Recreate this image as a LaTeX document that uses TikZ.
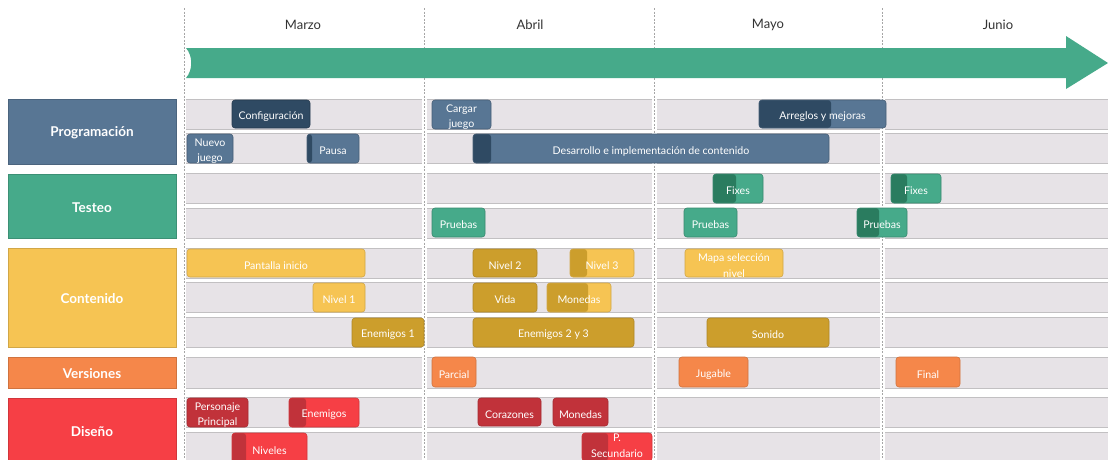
\documentclass[tikz,border=0pt]{standalone}
\usepackage{fontspec}
\setmainfont{Lato}
\definecolor{progL}{HTML}{587694}
\definecolor{progD}{HTML}{2F4A63}
\definecolor{testL}{HTML}{46AA8A}
\definecolor{testD}{HTML}{2A7C5F}
\definecolor{contL}{HTML}{F6C453}
\definecolor{contD}{HTML}{CC9E2C}
\definecolor{versC}{HTML}{F5874A}
\definecolor{disL}{HTML}{F63F45}
\definecolor{disD}{HTML}{C1323A}
\definecolor{rowfill}{HTML}{E7E3E7}
\definecolor{rowline}{HTML}{C2C0C2}
\definecolor{monthtext}{HTML}{333333}
\newcommand\task[8][-2.5pt]{%
  \pgfmathsetmacro\tw{#4-#3}%
  \pgfmathsetmacro\th{#6-#5}%
  \pgfmathsetmacro\tcx{(#3+#4)/2}%
  \pgfmathsetmacro\tcy{(#5+#6)/2}%
  \node[task,#7,minimum width=\tw pt,minimum height=\th pt,label={[tasktext,yshift=#1]center:{#8}}] (#2) at (\tcx,\tcy) {};}
\newcommand\catbox[5]{%
  \pgfmathsetmacro\th{#3-#2}%
  \pgfmathsetmacro\tcy{(#2+#3)/2}%
  \node[catstyle,fill=#4,draw=#4!85!black,minimum height=\th pt,label={[cattext]center:{#5}}] (#1) at (92,\tcy) {};}
\newcommand\rowband[2]{%
  \foreach \a/\b in {186/422,427/652,657/880,885/1108}{%
    \fill[rowfill] (\a,#1) rectangle (\b,#2);
    \draw[rowline,line width=0.7pt] (\a,#1) -- (\b,#1) (\a,#2) -- (\b,#2);}}
\tikzset{
  task/.style={rounded corners=3pt,inner sep=0pt,line width=0.6pt},
  tasktext/.style={text=white,font=\fontsize{10.6}{15.5}\selectfont,align=center,inner sep=0pt},
  pL/.style={fill=progL,draw=progL!80!black},
  pD/.style={fill=progD,draw=progD!80!black},
  tL/.style={fill=testL,draw=testL!80!black},
  cL/.style={fill=contL,draw=contL!85!black},
  cD/.style={fill=contD,draw=contD!85!black},
  vO/.style={fill=versC,draw=versC!85!black},
  dL/.style={fill=disL,draw=disL!85!black},
  dD/.style={fill=disD,draw=disD!85!black},
  split/.style 2 args={path picture={\fill[#1] (path picture bounding box.south west) rectangle ([xshift=#2]path picture bounding box.north west);}},
  catstyle/.style={minimum width=168pt,inner sep=0pt,line width=0.5pt},
  cattext/.style={text=white,font=\fontsize{13.5}{16}\selectfont\bfseries,inner sep=0pt,yshift=-1.5pt},
  month/.style={text=monthtext,font=\fontsize{13}{15}\selectfont,inner sep=2pt},
  monthline/.style={gray!70,line width=0.6pt,dash pattern=on 2pt off 1.5pt},
}
\begin{document}
\begin{tikzpicture}[x=1pt,y=-1pt]
\useasboundingbox (0,0) rectangle (1108,459);
\clip (0,0) rectangle (1108,459);
\fill[white] (0,0) rectangle (1108,459);
% month separators
\foreach \x in {184,424,654,882}{\draw[monthline] (\x,8) -- (\x,459);}
% month labels
\node[month] (marzo) at (303,25) {Marzo};
\node[month] (abril) at (530,25) {Abril};
\node[month] (mayo) at (768,25) {Mayo};
\node[month] (junio) at (998,25) {Junio};
% timeline arrow
\fill[testL] (186,48) -- (1066,48) -- (1066,36) -- (1108,63) -- (1066,89) -- (1066,78) -- (186,78)
  .. controls (193,70) and (193,56) .. (186,48) -- cycle;
% rows
\rowband{99}{129}\rowband{133}{163}
\rowband{173}{203}\rowband{208}{238}
\rowband{248}{278}\rowband{282}{312}\rowband{317}{347}
\rowband{357}{388}
\rowband{397}{427}\rowband{432}{470}
% categories
\catbox{cprog}{99}{164}{progL}{Programación}
\catbox{ctest}{174}{238}{testL}{Testeo}
\catbox{ccont}{248}{347}{contL}{Contenido}
\catbox{cvers}{357}{388}{versC}{Versiones}
\catbox{cdis}{398}{462}{disL}{Diseño}
% Programación
\task{conf}{232}{310}{100}{128}{pD}{Configuración}
\task{nuevo}{187}{233}{134}{163}{pL}{Nuevo\\juego}
\task{pausa}{307}{359}{134}{163}{pL,split={progD}{5pt}}{Pausa}
\task{cargar}{432}{491}{100}{129}{pL}{Cargar\\juego}
\task{desa}{473}{829}{134}{163}{pL,split={progD}{18pt}}{Desarrollo e implementación de contenido}
\task{arre}{759}{886}{100}{128}{pL,split={progD}{72pt}}{Arreglos y mejoras}
% Testeo
\task{fixesA}{713}{763}{174}{203}{tL,split={testD}{23pt}}{Fixes}
\task{fixesB}{891}{941}{174}{203}{tL,split={testD}{16pt}}{Fixes}
\task{pruA}{432}{485}{208}{237}{tL}{Pruebas}
\task{pruB}{684}{737}{208}{237}{tL}{Pruebas}
\task{pruC}{857}{907}{208}{237}{tL,split={testD}{22pt}}{Pruebas}
% Contenido
\task{pant}{187}{365}{249}{277}{cL}{Pantalla inicio}
\task{nivA}{313}{365}{283}{312}{cL}{Nivel 1}
\task{eneA}{352}{424}{318}{347}{cD}{Enemigos 1}
\task{nivB}{473}{537}{249}{277}{cD}{Nivel 2}
\task{nivC}{570}{634}{249}{277}{cL,split={contD}{17pt}}{Nivel 3}
\task{vida}{473}{537}{283}{312}{cD}{Vida}
\task{monA}{547}{611}{283}{312}{cL,split={contD}{41pt}}{Monedas}
\task{eneB}{473}{634}{318}{347}{cD}{Enemigos 2 y 3}
\task{mapa}{685}{783}{249}{277}{cL}{Mapa selección\\nivel}
\task{sonido}{707}{829}{318}{347}{cD}{Sonido}
% Versiones
\task{parcial}{432}{476}{357}{387}{vO}{Parcial}
\task{jugable}{679}{748}{357}{387}{vO}{Jugable}
\task{final}{896}{960}{357}{387}{vO}{Final}
% Diseño
\task{pers}{187}{248}{398}{427}{dD}{Personaje\\Principal}
\task{eneD}{289}{359}{398}{427}{dL,split={disD}{17pt}}{Enemigos}
\task{nivs}{232}{307}{433}{463}{dL,split={disD}{14pt}}{Niveles}
\task{cora}{478}{541}{398}{426}{dD}{Corazones}
\task{monB}{553}{608}{398}{426}{dD}{Monedas}
\task[1.5pt]{psec}{582}{652}{433}{461}{dL,split={disD}{26pt}}{P.\\Secundario}
\end{tikzpicture}
\end{document}
